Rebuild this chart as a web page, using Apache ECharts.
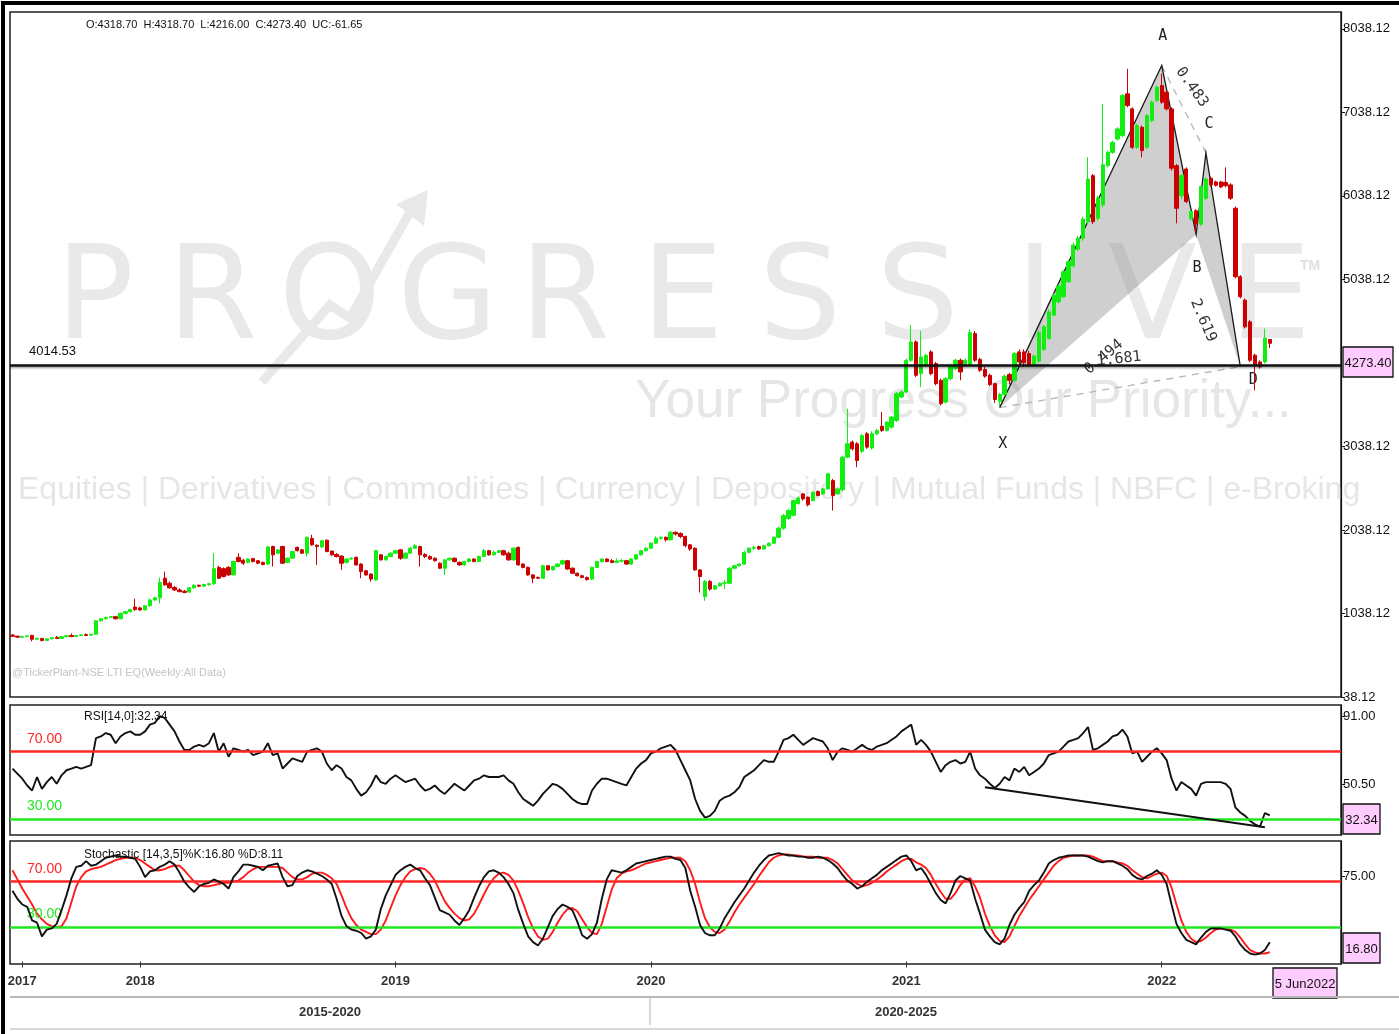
<!DOCTYPE html>
<html>
<head>
<meta charset="utf-8">
<title>LTI weekly</title>
<script src="https://cdn.jsdelivr.net/npm/echarts@6.0.0/dist/echarts.min.js"></script>
<style>
  html, body { margin: 0; padding: 0; background: #fff; }
  #main { width: 1399px; height: 1034px; }
</style>
</head>
<body>
<div id="main"></div>
<script>
// weekly bars, first bar dated Sunday 9 Jul 2017
var firstWeek = Date.UTC(2017, 6, 9);
var emptyWeeks = 14;

// [open, close, low, high]
var candles = [
  [780,765,755,790],[765,755,745,775],[755,762,745,770],[762,770,752,778],[775,730,705,782],
  [730,740,720,750],[740,715,705,745],[715,735,710,742],[735,750,728,755],[752,740,732,768],
  [740,760,735,765],[760,772,752,778],[775,762,755,800],[762,775,755,780],[775,782,768,790],
  [785,775,768,800],[778,790,770,795],[790,950,785,960],[950,975,940,985],[975,990,965,1000],
  [990,1000,980,1010],[1000,975,965,1008],[975,1040,970,1050],[1040,1060,1030,1070],[1060,1085,1050,1095],
  [1115,1085,1070,1215],[1105,1080,1070,1120],[1080,1130,1075,1140],[1130,1200,1120,1215],[1200,1225,1190,1240],
  [1225,1410,1160,1470],[1460,1380,1370,1540],[1400,1345,1335,1420],[1350,1320,1305,1370],[1320,1300,1290,1340],
  [1305,1290,1280,1320],[1295,1345,1285,1355],[1345,1375,1335,1390],[1375,1365,1355,1385],[1365,1385,1355,1395],
  [1385,1395,1370,1400],[1395,1575,1380,1760],[1590,1460,1450,1610],[1575,1480,1470,1590],[1590,1500,1490,1605],
  [1500,1660,1495,1670],[1710,1660,1650,1760],[1675,1640,1620,1690],[1650,1690,1640,1700],[1695,1660,1650,1705],
  [1670,1640,1630,1680],[1650,1625,1615,1660],[1630,1835,1620,1845],[1840,1740,1600,1850],[1760,1800,1750,1810],
  [1840,1640,1630,1850],[1650,1700,1640,1710],[1700,1780,1690,1790],[1830,1790,1780,1840],[1800,1760,1750,1810],
  [1760,1950,1720,1960],[1935,1860,1850,1980],[1855,1840,1620,1865],[1835,1910,1820,1920],[1915,1780,1770,1925],
  [1785,1740,1730,1790],[1745,1720,1710,1760],[1725,1640,1560,1735],[1650,1690,1640,1700],[1690,1700,1680,1710],
  [1710,1620,1610,1720],[1630,1540,1460,1640],[1550,1500,1490,1560],[1510,1450,1420,1520],[1440,1790,1430,1800],
  [1740,1680,1670,1750],[1680,1720,1670,1730],[1720,1760,1710,1770],[1760,1790,1750,1800],[1800,1700,1680,1810],
  [1700,1760,1690,1770],[1760,1820,1750,1835],[1820,1850,1810,1870],[1840,1740,1600,1850],[1745,1720,1700,1760],
  [1720,1690,1680,1735],[1700,1670,1660,1710],[1640,1580,1570,1650],[1580,1680,1500,1690],[1680,1700,1670,1710],
  [1700,1660,1650,1710],[1650,1620,1610,1660],[1620,1660,1610,1670],[1660,1690,1650,1700],[1690,1660,1650,1700],
  [1660,1720,1650,1730],[1720,1790,1710,1810],[1790,1740,1730,1800],[1740,1770,1730,1790],[1770,1790,1760,1800],
  [1790,1740,1730,1800],[1760,1680,1670,1780],[1680,1820,1670,1830],[1830,1620,1610,1840],[1630,1590,1580,1640],
  [1590,1500,1490,1600],[1500,1460,1400,1510],[1470,1460,1450,1480],[1460,1610,1450,1620],[1610,1560,1550,1615],
  [1560,1600,1550,1610],[1600,1630,1590,1640],[1630,1670,1620,1680],[1670,1570,1560,1680],[1580,1520,1510,1590],
  [1520,1490,1480,1530],[1490,1470,1460,1500],[1470,1445,1430,1480],[1450,1590,1440,1600],[1590,1660,1580,1670],
  [1660,1690,1650,1700],[1690,1660,1650,1700],[1670,1650,1640,1690],[1650,1665,1640,1700],[1665,1670,1650,1690],
  [1670,1630,1620,1680],[1630,1690,1620,1700],[1690,1740,1680,1750],[1740,1790,1730,1800],[1790,1820,1780,1830],
  [1820,1880,1810,1890],[1880,1940,1870,1960],[1940,1950,1920,1960],[1950,1920,1900,1960],[1920,2010,1910,2030],
  [2010,1990,1970,2020],[1995,1960,1940,2010],[1960,1850,1830,1970],[1860,1810,1790,1870],[1820,1560,1550,1830],
  [1560,1480,1290,1570],[1240,1420,1190,1440],[1420,1330,1310,1440],[1330,1370,1320,1380],[1370,1400,1360,1410],
  [1400,1405,1330,1440],[1400,1580,1390,1590],[1580,1610,1570,1620],[1610,1630,1600,1640],[1630,1770,1620,1790],
  [1770,1820,1760,1830],[1820,1830,1800,1850],[1840,1810,1800,1850],[1810,1850,1800,1860],[1850,1880,1840,1890],
  [1880,1950,1870,1960],[1950,2060,1940,2080],[2060,2210,2040,2230],[2175,2270,2160,2290],[2215,2390,2200,2400],
  [2355,2420,2340,2440],[2470,2410,2390,2480],[2430,2340,2320,2440],[2390,2490,2380,2500],[2500,2450,2440,2510],
  [2470,2530,2460,2540],[2530,2710,2520,2720],[2630,2450,2270,2650],[2470,2530,2460,2550],[2520,2910,2500,2930],
  [2910,3070,2900,3490],[3090,3010,2990,3110],[3070,2870,2790,3090],[2980,3170,2960,3190],[3190,3030,3010,3210],
  [3020,3190,3000,3220],[3190,3230,3170,3250],[3280,3230,3210,3450],[3230,3330,3220,3340],[3270,3390,3250,3400],
  [3350,3670,3330,3690],[3630,3690,3620,3710],[3690,4070,3680,4090],[4070,4290,4050,4490],[4290,3890,3870,4310],
  [3910,4110,3750,4420],[4010,4130,3990,4150],[4170,3910,3890,4190],[4030,3790,3770,4050],[3830,3550,3530,3850],
  [3570,3850,3550,3870],[3850,4010,3830,4030],[3970,4070,3950,4090],[4070,3930,3830,4090],[4010,4070,3990,4090],
  [4020,4400,4000,4440],[4390,4070,4050,4420],[4080,3950,3930,4100],[3960,3880,3860,3990],[3890,3780,3760,3910],
  [3790,3600,3560,3800],[3580,3660,3520,3680],[3660,3880,3650,3900],[3900,3830,3780,3920],[3830,4150,3810,4170],
  [4170,4050,4010,4200],[4170,4040,3990,4200],[4150,4020,3990,4180],[4020,4120,4000,4140],[4060,4400,4040,4420],
  [4200,4470,4180,4490],[4330,4650,4320,4680],[4610,4850,4600,4870],[4770,4960,4750,4980],[4830,5130,4820,5150],
  [5010,5250,5000,5270],[5200,5450,5180,5480],[5400,5530,5380,5560],[5530,5760,5500,5790],[5730,6240,5700,6500],
  [6280,5730,5700,6300],[5770,6010,5740,6040],[5930,6410,5900,7140],[6400,6560,6380,6580],[6560,6680,6540,6700],
  [6720,6840,6700,6860],[6760,7240,6740,7260],[7260,7120,7100,7560],[7080,6620,6600,7100],[6620,6880,6600,6900],
  [6860,6580,6500,6880],[6620,7000,6600,7020],[6940,7160,6920,7180],[7180,7340,7160,7360],[7360,7160,7140,7500],
  [7280,7080,7060,7300],[7080,6370,6340,7100],[6400,5890,5710,6420],[6040,6280,6000,6300],[6360,5970,5950,6380],
  [5770,5850,5740,5870],[5860,5700,5600,5880],[5700,6150,5680,6160],[6010,6240,5990,6260],[6250,6170,6150,6270],
  [6205,6165,6150,6220],[6205,6145,6130,6220],[6200,6160,6140,6380],[6170,6010,5990,6190],[5890,5070,5050,5910],
  [5070,4830,4810,5090],[4790,4470,4450,4810],[4530,4070,4050,4550],[4130,4010,3710,4150],[4050,3990,3970,4070],
  [4050,4335.05,4030,4450],[4318.70,4273.40,4216.00,4318.70]
];

var rsi = [
  60,57,54,50,47,55,48,52,55,51, 56,59,60,61,60,61,62,78,79,81,
  80,75,79,81,82,80,80,82,86,87, 91,90,86,82,76,71,71,73,74,73,
  75,81,70,75,67,72,71,70,71,68, 69,70,75,68,69,60,63,66,65,64,
  70,71,72,70,63,59,62,60,55,53, 48,44,46,50,56,52,51,54,56,54,
  52,53,54,50,47,48,50,47,45,48, 51,49,47,50,53,54,56,55,55,55,
  56,53,51,46,42,40,38,41,45,48, 51,50,48,45,42,40,39,39,47,51,
  54,54,53,52,51,50,55,60,63,65, 69,70,72,73,74,71,65,59,53,42,
  35,31,32,35,41,43,44,46,49,55, 57,59,62,65,64,64,70,77,78,80,
  77,74,76,78,77,76,72,65,70,72, 71,70,72,74,72,71,73,74,75,77,
  79,82,84,86,74,77,74,70,64,58, 62,64,65,63,64,70,60,56,54,51,
  48.5,51,55,53,60,58,61,56,58,60, 63,68,69,70,73,76,77,78,81,84.6,
  71,72,74,76,79,80,83,79,69,70, 64,67,70,72,69,65,54,47,52,50,
  48,44,51,52,52,52,52,51,48,37, 34,32,29,27,25.6,33.7,32.34
];

var stochK = [
  62,55,50,48,36,34,22,28,29,33, 45,58,73,83,84,88,84,85,88,91,
  92,93,92,92,91,90,83,74,79,80, 83,85,88,85,78,70,65,61,66,68,
  69,72,70,68,64,74,79,85,85,84, 83,80,84,85,86,74,66,67,75,78,
  80,79,77,75,72,68,55,40,31,28, 27,25,20,22,28,46,58,67,76,80,
  83,85,82,80,73,67,56,45,43,41, 36,32,38,45,56,66,74,79,80,78,
  74,68,60,45,33,22,17,14,20,30, 40,46,50,48,45,35,23,20,24,34,
  55,72,80,79,78,80,83,86,87,88, 89,90,91,92,92,90,89,82,62,48,
  32,25,23,23,29,38,45,52,58,64, 71,78,84,89,93,94,95,94,93,93,
  92,92,91,91,92,91,89,86,82,76, 71,68,64,66,70,73,76,80,83,86,
  89,92,93,88,80,82,76,68,60,54, 51,60,71,75,73,71,55,42,28,22,
  17,15,20,32,41,47,52,62,67,71, 78,86,89,91,92,93,93,93,93,92,
  90,88,87,88,88,86,84,81,76,73, 72,75,77,80,76,68,50,33,25,19,
  17,15,21,26,29,29,29,28,27,22, 15,10,7,6,7,10,16.80
];

var stochD = [
  80,72,64,57,50,42,37,33,31,30, 31,38,52,66,74,79,81,82,83,85,
  87,89,90,91,91,91,89,86,83,80, 80,81,83,84,84,80,75,70,67,66,
  66,67,68,69,69,70,71,74,78,81, 83,83,83,83,83,82,78,74,72,72,
  74,77,78,78,76,73,68,58,47,38, 32,28,26,24,24,28,36,47,58,67,
  74,79,81,82,81,77,71,62,53,47, 42,38,36,37,42,50,59,67,73,77,
  78,76,71,62,51,39,29,22,19,20, 26,34,41,46,47,44,37,30,25,24,
  33,48,63,73,77,79,80,82,84,86, 87,88,89,90,91,91,91,88,80,68,
  52,38,30,26,25,28,35,43,50,56, 62,68,75,81,87,91,93,94,94,93,
  93,92,92,92,91,91,91,89,86,81, 76,71,68,66,67,69,72,75,79,82,
  85,88,90,90,87,85,82,76,68,61, 55,55,60,67,72,73,66,56,42,31,
  23,18,17,22,31,40,47,54,60,66, 72,78,84,88,91,92,93,93,93,93,
  92,90,88,88,88,87,86,84,80,77, 74,73,75,77,78,75,65,50,36,26,
  20,17,18,21,25,28,29,29,28,26, 21,15,10,8,7,7,8.11
];

var priceTicks = [38.12, 1038.12, 2038.12, 3038.12, 5038.12, 6038.12, 7038.12, 8038.12];
var rsiTicks = [50.5, 91];
var stochTicks = [75];
var bandLevels = [70, 30];
var supportLevel = 4014.53;

var harmonicPoints = [
  { name: 'X', date: '2021-05-16', value: 3503 },
  { name: 'A', date: '2022-01-02', value: 7599 },
  { name: 'B', date: '2022-02-20', value: 5576 },
  { name: 'C', date: '2022-03-06', value: 6553 },
  { name: 'D', date: '2022-04-24', value: 3994 }
];
var harmonicRatios = ['0.494', '0.483', '2.619', '1.681'];
var rsiTrend = [['2021-04-25', 48.9], ['2022-05-29', 25.3]];
var periods = ['2015-2020', '2020-2025'];

var SANS = '"Liberation Sans", Arial, sans-serif';
var MONO = '"DejaVu Sans Mono", monospace';
var UP = '#11ee11', DOWN = '#cc0000', RED = '#ff2626', GREEN = '#22e622';

var dates = [];
for (var i = 0; i < candles.length + emptyWeeks; i++) {
  dates.push(new Date(firstWeek + i * 7 * 864e5).toISOString().slice(0, 10));
}
var MONTHS = ['Jan','Feb','Mar','Apr','May','Jun','Jul','Aug','Sep','Oct','Nov','Dec'];
var lastIdx = candles.length - 1;
var last = candles[lastIdx];
var lastDate = dates[lastIdx].split('-');
var lastDateText = (+lastDate[2]) + ' ' + MONTHS[+lastDate[1] - 1] + lastDate[0];

function isYearMark(idx) {
  if (idx >= candles.length) return false;
  if (idx === 2) return true; // first year label sits a couple of bars in
  return idx > 0 && dates[idx].slice(0, 4) !== dates[idx - 1].slice(0, 4);
}

function bandMarkLine() {
  return {
    silent: true,
    symbol: ['none', 'none'],
    label: { position: 'insideStartTop', fontFamily: SANS, fontSize: 14, padding: [0, 0, 1, 12] },
    data: [
      { yAxis: bandLevels[0], lineStyle: { color: RED, width: 2.5, type: 'solid' },
        label: { formatter: bandLevels[0].toFixed(2), color: RED } },
      { yAxis: bandLevels[1], lineStyle: { color: GREEN, width: 2.5, type: 'solid' },
        label: { formatter: bandLevels[1].toFixed(2), color: GREEN } }
    ]
  };
}

function hiddenX(gi) {
  return {
    type: 'category', gridIndex: gi, data: dates, boundaryGap: true,
    axisLine: { show: false }, axisTick: { show: false }, axisLabel: { show: false }
  };
}

function rightY(gi, min, max, ticks) {
  return {
    type: 'value', gridIndex: gi, position: 'right', min: min, max: max,
    splitLine: { show: false },
    axisLine: { show: true, lineStyle: { color: '#111', width: 1.2 } },
    axisTick: { show: true, length: 4, customValues: ticks, lineStyle: { color: '#111' } },
    axisLabel: {
      customValues: ticks, margin: 2, color: '#111', fontFamily: SANS, fontSize: 13,
      formatter: function (v) { return v.toFixed(2); }
    }
  };
}

function valueBox(x, y, w, h, text) {
  return {
    type: 'group', z: 100, children: [
      { type: 'rect', shape: { x: x, y: y, width: w, height: h },
        style: { fill: '#ffccff', stroke: '#111', lineWidth: 1.3 } },
      { type: 'text', x: x + w / 2, y: y + h / 2 + 1,
        style: { text: text, font: '13px ' + SANS, fill: '#111', align: 'center', verticalAlign: 'middle' } }
    ]
  };
}

// watermark and page furniture
var wm = '#e9e9e9';
var graphics = [];
'PROGRESSIVE'.split('').forEach(function (ch, k) {
  graphics.push({ type: 'text', silent: true, x: 95 + k * 117.5, y: 304,
    style: { text: ch, font: '130px "DejaVu Sans"', fill: wm, align: 'center', verticalAlign: 'middle' } });
});
graphics.push(
  { type: 'text', silent: true, x: 1300, y: 259, style: { text: 'TM', font: 'bold 14px ' + SANS, fill: '#e0e0e0' } },
  { type: 'polyline', silent: true, shape: { points: [[262, 382], [330, 305], [350, 318], [410, 212]] },
    style: { stroke: wm, lineWidth: 9, fill: null } },
  { type: 'polygon', silent: true, shape: { points: [[396, 204], [428, 190], [424, 226]] }, style: { fill: wm } },
  { type: 'text', silent: true, x: 635, y: 402,
    style: { text: 'Your Progress Our Priority...', font: '53px ' + SANS, fill: '#e6e6e6', verticalAlign: 'middle' } },
  { type: 'text', silent: true, x: 18, y: 490,
    style: { text: 'Equities | Derivatives | Commodities | Currency | Depository | Mutual Funds | NBFC | e-Broking',
      font: '32px ' + SANS, fill: '#e6e6e6', verticalAlign: 'middle' } },
  { type: 'text', silent: true, x: 12, y: 673,
    style: { text: '@TickerPlant-NSE LTI EQ(Weekly:All Data)', font: '11px ' + SANS, fill: '#c4c4c4', verticalAlign: 'middle' } },
  { type: 'text', x: 86, y: 25, z: 50,
    style: { text: 'O:' + last[0].toFixed(2) + '  H:' + last[3].toFixed(2) + '  L:' + last[2].toFixed(2) +
      '  C:' + last[1].toFixed(2) + '  UC:' + (last[1] - candles[lastIdx - 1][1]).toFixed(2),
      font: '11px ' + SANS, fill: '#111', verticalAlign: 'middle' } },
  { type: 'text', x: 84, y: 717, z: 50,
    style: { text: 'RSI[14,0]:' + rsi[lastIdx].toFixed(2), font: '12px ' + SANS, fill: '#111', verticalAlign: 'middle' } },
  { type: 'text', x: 84, y: 855, z: 50,
    style: { text: 'Stochastic [14,3,5]%K:' + stochK[lastIdx].toFixed(2) + ' %D:' + stochD[lastIdx].toFixed(2),
      font: '12px ' + SANS, fill: '#111', verticalAlign: 'middle' } },
  valueBox(1343, 347, 50, 30, last[1].toFixed(2)),
  valueBox(1343, 804, 37, 30, rsi[lastIdx].toFixed(2)),
  valueBox(1343, 933, 37, 30, stochK[lastIdx].toFixed(2)),
  valueBox(1273, 968, 64, 30, lastDateText),
  { type: 'line', shape: { x1: 10, y1: 997, x2: 1399, y2: 997 }, style: { stroke: '#b8b8b8', lineWidth: 2 } },
  { type: 'line', shape: { x1: 650, y1: 998, x2: 650, y2: 1025 }, style: { stroke: '#b0b0b0', lineWidth: 1 } },
  { type: 'line', shape: { x1: 10, y1: 1029, x2: 1399, y2: 1029 }, style: { stroke: '#d8d8d8', lineWidth: 2 } },
  { type: 'text', x: 330, y: 1012, style: { text: periods[0], font: 'bold 13px ' + SANS, fill: '#333', align: 'center', verticalAlign: 'middle' } },
  { type: 'text', x: 906, y: 1012, style: { text: periods[1], font: 'bold 13px ' + SANS, fill: '#333', align: 'center', verticalAlign: 'middle' } },
  { type: 'polyline', z: 100, shape: { points: [[3, 1034], [3, 3], [1399, 3]] }, style: { stroke: '#000', lineWidth: 4, fill: null } }
);

// placement of the pattern annotations relative to the pivots
var letterOffset = { X: [3, 36], A: [1, -29], B: [1, 34], C: [3, -29], D: [13, 13] };
var ratioPlace = [
  { seg: ['X', 'B'], dx: 6, dy: 36, rot: 40 },
  { seg: ['A', 'C'], dx: 8, dy: -22, rot: -55 },
  { seg: ['B', 'D'], dx: -15, dy: 20, rot: -67 },
  { seg: ['X', 'D'], dx: -1, dy: -28, rot: 6 }
];

function renderHarmonic(params, api) {
  if (params.dataIndex !== 0) return;
  var P = {};
  harmonicPoints.forEach(function (h) {
    P[h.name] = api.coord([dates.indexOf(h.date), h.value]);
  });
  var shade = 'rgba(140,140,140,0.42)';
  var dash = { stroke: '#b4b4b4', lineWidth: 1.3, lineDash: [7, 6] };
  var kids = [
    { type: 'polygon', shape: { points: [P.X, P.A, P.B] }, style: { fill: shade } },
    { type: 'polygon', shape: { points: [P.B, P.C, P.D] }, style: { fill: shade } },
    { type: 'line', shape: { x1: P.X[0], y1: P.X[1], x2: P.D[0], y2: P.D[1] }, style: dash },
    { type: 'line', shape: { x1: P.A[0], y1: P.A[1], x2: P.C[0], y2: P.C[1] }, style: dash },
    { type: 'polyline', shape: { points: [P.X, P.A, P.B, P.C, P.D] }, style: { stroke: '#1a1a1a', lineWidth: 1.3, fill: null } }
  ];
  harmonicPoints.forEach(function (h) {
    var o = letterOffset[h.name];
    kids.push({ type: 'text', x: P[h.name][0] + o[0], y: P[h.name][1] + o[1],
      style: { text: h.name, font: '15px ' + MONO, fill: '#222', align: 'center', verticalAlign: 'middle' } });
  });
  harmonicRatios.forEach(function (txt, k) {
    var r = ratioPlace[k], p = P[r.seg[0]], q = P[r.seg[1]];
    kids.push({ type: 'text', x: (p[0] + q[0]) / 2 + r.dx, y: (p[1] + q[1]) / 2 + r.dy,
      rotation: r.rot * Math.PI / 180,
      style: { text: txt, font: '15px ' + MONO, fill: '#333', align: 'center', verticalAlign: 'middle' } });
  });
  return { type: 'group', children: kids };
}

var bottomX = {
  type: 'category', gridIndex: 2, data: dates, boundaryGap: true,
  axisLine: { show: false },
  axisTick: { show: true, alignWithLabel: true, length: 6, interval: isYearMark, lineStyle: { color: '#333' } },
  axisLabel: {
    interval: isYearMark, margin: 11, color: '#333', fontFamily: SANS, fontWeight: 'bold', fontSize: 13,
    formatter: function (v) { return v.slice(0, 4); }
  }
};

var option = {
  animation: false,
  backgroundColor: '#fff',
  grid: [
    { left: 10, top: 12, width: 1331, height: 685, show: true, borderColor: '#222', borderWidth: 1.5 },
    { left: 10, top: 705, width: 1331, height: 130, show: true, borderColor: '#222', borderWidth: 1.5 },
    { left: 10, top: 841, width: 1331, height: 123, show: true, borderColor: '#222', borderWidth: 1.5 }
  ],
  xAxis: [hiddenX(0), hiddenX(1), bottomX],
  yAxis: [
    rightY(0, 38.12, 8240, priceTicks),
    rightY(1, 20.7, 97.6, rsiTicks),
    rightY(2, -2.2, 105.7, stochTicks)
  ],
  graphic: graphics,
  series: [
    {
      type: 'custom', xAxisIndex: 0, yAxisIndex: 0, z: 1,
      data: harmonicPoints.map(function (h) { return [dates.indexOf(h.date), h.value]; }),
      encode: { x: 0, y: 1 },
      renderItem: renderHarmonic
    },
    {
      type: 'candlestick', xAxisIndex: 0, yAxisIndex: 0, z: 3,
      data: candles, barWidth: 3.8,
      itemStyle: { color: UP, color0: DOWN, borderColor: UP, borderColor0: DOWN, borderWidth: 1 },
      markLine: {
        silent: true, symbol: ['none', 'none'],
        lineStyle: { color: '#111', width: 2.5, type: 'solid', shadowColor: 'rgba(0,0,0,0.35)', shadowBlur: 2, shadowOffsetY: 1.5 },
        label: { formatter: supportLevel.toFixed(2), position: 'insideStartTop', color: '#111',
          fontFamily: SANS, fontSize: 13, padding: [0, 0, 2, 14] },
        data: [{ yAxis: supportLevel }]
      }
    },
    {
      type: 'line', xAxisIndex: 1, yAxisIndex: 1, data: rsi, showSymbol: false, z: 4,
      lineStyle: { color: '#111', width: 1.9 }, markLine: bandMarkLine()
    },
    {
      type: 'line', xAxisIndex: 1, yAxisIndex: 1, data: rsiTrend, showSymbol: false, z: 5,
      lineStyle: { color: '#111', width: 2 }
    },
    {
      type: 'line', xAxisIndex: 2, yAxisIndex: 2, data: stochK, showSymbol: false, z: 5,
      lineStyle: { color: '#111', width: 1.9 }, markLine: bandMarkLine()
    },
    {
      type: 'line', xAxisIndex: 2, yAxisIndex: 2, data: stochD, showSymbol: false, z: 4,
      lineStyle: { color: '#ff1a1a', width: 1.9 }
    }
  ]
};

var chart = echarts.init(document.getElementById('main'));
chart.setOption(option);
</script>
</body>
</html>
